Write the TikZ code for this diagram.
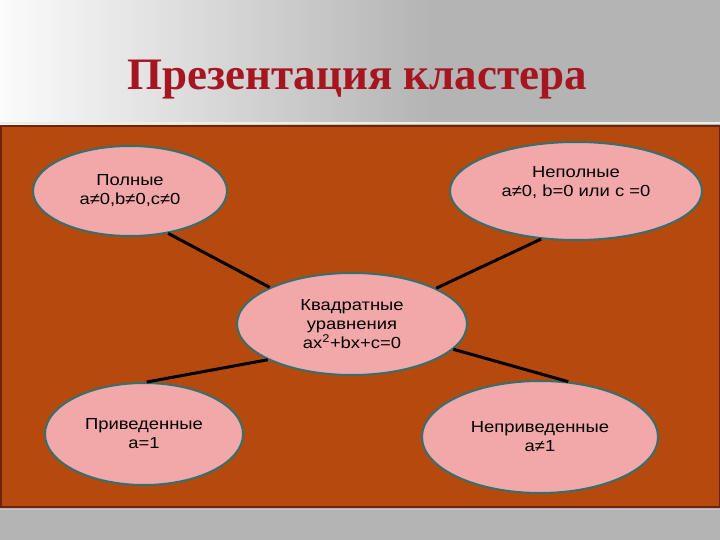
\documentclass[tikz,border=0pt]{standalone}
\usepackage{fontspec}
\setmainfont{Liberation Serif}
\newfontfamily\bodyfont{Liberation Sans}[FakeStretch=1.15]
\usepackage{tikz}
\usetikzlibrary{shapes.geometric}
\definecolor{panel}{RGB}{181,73,14}
\definecolor{panelline}{RGB}{110,35,12}
\definecolor{bubblefill}{RGB}{242,168,168}
\definecolor{bubbleline}{RGB}{52,112,112}
\definecolor{titlered}{RGB}{165,22,32}
\definecolor{slidegray}{RGB}{180,180,180}
\tikzset{%
  bubble/.style = {ellipse,draw=bubbleline,fill=bubblefill,line width=2pt,
        inner sep=0pt,align=center,font=\bodyfont\fontsize{16}{19}\selectfont},
  link/.style = {line width=3pt,draw=black}
}
\begin{document}
\begin{tikzpicture}[x=1pt,y=-1pt]
                \useasboundingbox (0,0) rectangle (720,540);
                % slide background
                \shade[left color=white!97!gray, right color=slidegray] (0,0) rectangle (431,125);
                \fill[slidegray] (430,0) rectangle (720,125);
                \draw[white!85!gray, line width=1.5pt] (0,123) -- (720,123);
                \draw[panelline, line width=1.5pt, fill=panel] (0.75,126) rectangle (719.25,507);
                \fill[slidegray] (0,507.75) rectangle (720,540);
                \draw[gray!45, line width=1.5pt] (0,509.5) -- (720,509.5);

                \node[font=\fontsize{45}{50}\selectfont\bfseries, text=titlered, anchor=base]
                      (title) at (357,90) {Презентация кластера};

                \node[bubble, minimum width=194pt, minimum height=90pt] (pol) at (130,191)
                      {Полные\\a≠0,b≠0,c≠0};
                \node[bubble, minimum width=252pt, minimum height=98pt] (nep) at (576,191)
                      {Неполные\\a≠0, b=0 или c =0\\\mbox{}};
                \node[bubble, minimum width=230pt, minimum height=102pt] (kv) at (352,324)
                      {Квадратные\\уравнения\\ax\textsuperscript{2}+bx+c=0};
                \node[bubble, minimum width=198pt, minimum height=102pt] (pr) at (144,434)
                      {Приведенные\\a=1};
                \node[bubble, minimum width=236pt, minimum height=112pt] (npr) at (540,437)
                      {Неприведенные\\a≠1};

                \path[link] (pol.312) edge (kv.156)
                            (nep.234) edge (kv.23)
                            (kv.203) edge (pr.87)
                            (kv.346) edge (npr.63);
\end{tikzpicture}
\end{document}
